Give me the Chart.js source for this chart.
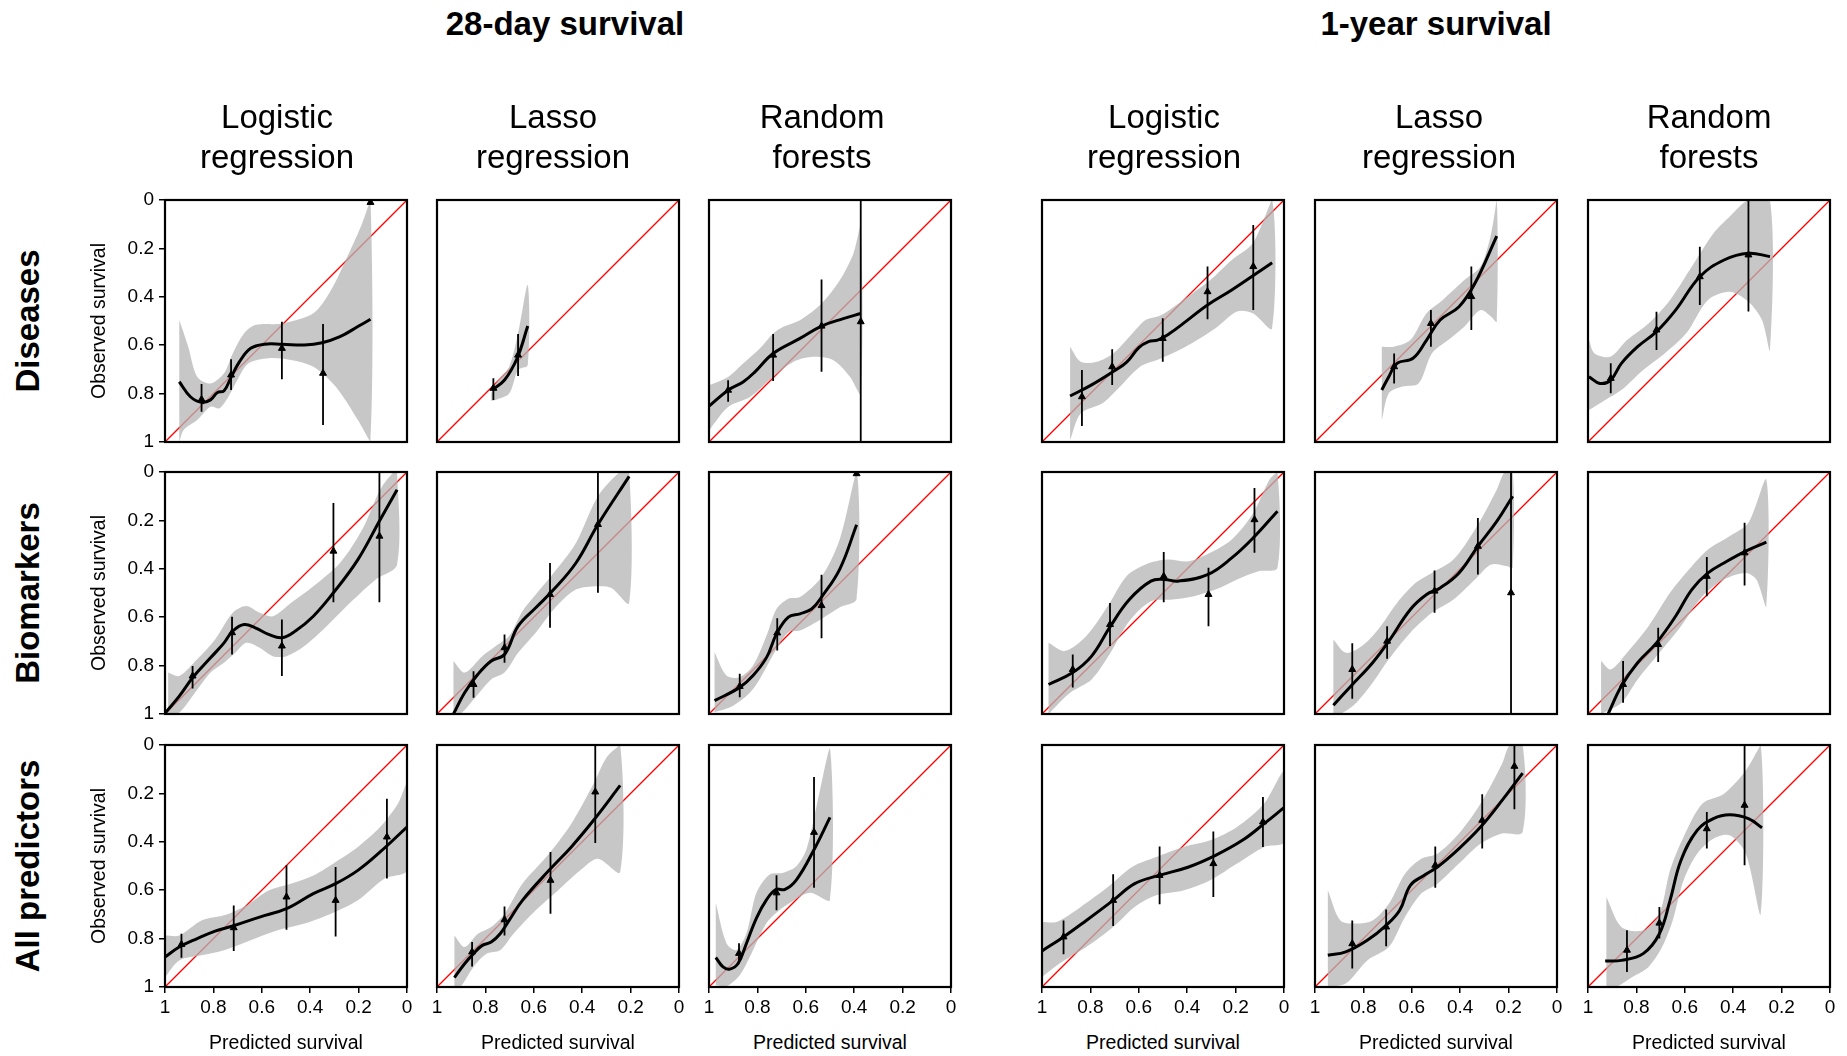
<!DOCTYPE html>
<html>
<head>
<meta charset="utf-8">
<script src="https://cdn.jsdelivr.net/npm/chart.js@4/dist/chart.umd.min.js"></script>
<style>
  body { margin: 0; background: #fff; }
  #page { position: relative; width: 1847px; height: 1056px; overflow: hidden; background: #fff;
          font-family: "Liberation Sans", Arial, sans-serif; color: #000; }
  .lbl { position: absolute; white-space: nowrap; transform: translate(-50%, -50%); text-align: center; }
  .rot { transform: translate(-50%, -50%) rotate(-90deg); }
  canvas { position: absolute; }
</style>
</head>
<body>
<div id="page"></div>
<script>
// labels
const horizons = ['28-day survival', '1-year survival'];
const methods = [['Logistic', 'regression'], ['Lasso', 'regression'], ['Random', 'forests']];
const predictorSets = ['Diseases', 'Biomarkers', 'All predictors'];
const tickValues = [0, 0.2, 0.4, 0.6, 0.8, 1];
const diagonal = [0, 1];

// each panel: curve [x, y], band upper / lower [x, y], points [x, y, lo, hi]
// 28-day, diseases
const dis28LogCurve = [[.941,.751],[.895,.813],[.849,.836],[.812,.826],[.784,.796],[.756,.788],[.729,.737],[.692,.668],[.646,.613],[.59,.596],[.517,.596],[.424,.599],[.351,.59],[.277,.565],[.203,.523],[.151,.493]];
const dis28LogUpper = [[.941,.496],[.904,.606],[.867,.73],[.812,.758],[.756,.716],[.72,.634],[.673,.551],[.627,.517],[.517,.51],[.387,.468],[.314,.372],[.24,.22],[.185,.096],[.151,0]];
const dis28LogLower = [[.941,1],[.923,.95],[.867,.909],[.812,.854],[.775,.861],[.738,.813],[.701,.744],[.655,.675],[.572,.654],[.48,.661],[.387,.689],[.295,.771],[.203,.909],[.151,1]];
const dis28LogPts = [[.849,.824,.76,.875],[.727,.723,.658,.785],[.517,.613,.503,.741],[.347,.716,.512,.93],[.151,.01,.01,.01]];

const dis28LasCurve = [[.772,.785],[.721,.744],[.669,.654],[.625,.521]];
const dis28LasUpper = [[.776,.8],[.757,.758],[.702,.689],[.665,.551],[.625,.351]];
const dis28LasLower = [[.776,.83],[.757,.826],[.702,.8],[.665,.702],[.625,.682]];
const dis28LasPts = [[.767,.778,.737,.826],[.665,.641,.554,.727]];

const dis28RfCurve = [[1,.852],[.921,.786],[.859,.752],[.81,.71],[.735,.634],[.624,.572],[.535,.521],[.445,.49],[.373,.469]];
const dis28RfUpper = [[1,.766],[.921,.731],[.859,.676],[.79,.614],[.735,.552],[.693,.524],[.624,.497],[.535,.428],[.459,.331],[.403,.221],[.373,.11]];
const dis28RfLower = [[1,.952],[.921,.855],[.831,.814],[.735,.731],[.652,.669],[.569,.648],[.486,.662],[.417,.731],[.373,.8]];
const dis28RfPts = [[.921,.786,.745,.834],[.735,.641,.554,.748],[.535,.521,.328,.71],[.373,.503,0,1]];

// 28-day, biomarkers
const bio28LogCurve = [[1,.997],[.941,.926],[.886,.85],[.812,.768],[.756,.706],[.72,.657],[.673,.63],[.627,.644],[.572,.671],[.517,.685],[.461,.657],[.387,.596],[.304,.499],[.203,.362],[.111,.197],[.041,.073]];
const bio28LogUpper = [[.987,.829],[.941,.843],[.867,.774],[.793,.692],[.72,.582],[.664,.554],[.609,.582],[.554,.596],[.48,.541],[.387,.472],[.277,.376],[.185,.238],[.111,.073],[.055,0],[.041,0]];
const bio28LogLower = [[.987,1],[.941,.994],[.886,.926],[.812,.829],[.756,.788],[.71,.747],[.664,.706],[.609,.726],[.554,.761],[.498,.761],[.424,.719],[.332,.637],[.221,.527],[.129,.444],[.041,.382]];
const bio28LogPts = [[.886,.843,.802,.895],[.723,.664,.598,.754],[.517,.719,.609,.843],[.304,.327,.128,.538],[.114,.265,0,.538]];

const bio28LasCurve = [[.932,1],[.886,.912],[.831,.836],[.776,.781],[.721,.754],[.665,.637],[.592,.561],[.518,.486],[.426,.376],[.335,.217],[.206,.018]];
const bio28LasUpper = [[.932,.781],[.886,.829],[.813,.761],[.757,.719],[.702,.678],[.647,.575],[.592,.506],[.518,.417],[.426,.293],[.335,.1],[.243,0],[.206,0]];
const bio28LasLower = [[.932,1],[.904,1],[.849,.94],[.776,.857],[.721,.829],[.665,.747],[.592,.664],[.518,.568],[.426,.486],[.335,.472],[.279,.479],[.206,.541]];
const bio28LasPts = [[.849,.878,.823,.933],[.721,.726,.671,.788],[.533,.506,.376,.644],[.335,.217,0,.499]];

const bio28RfCurve = [[.977,.945],[.873,.89],[.818,.841],[.762,.766],[.721,.669],[.672,.6],[.624,.586],[.576,.566],[.535,.517],[.459,.4],[.39,.218]];
const bio28RfUpper = [[.977,.745],[.928,.841],[.873,.848],[.818,.8],[.762,.676],[.721,.566],[.672,.524],[.624,.517],[.535,.434],[.459,.276],[.39,0]];
const bio28RfLower = [[.977,.993],[.9,.966],[.818,.897],[.721,.731],[.672,.662],[.624,.655],[.535,.607],[.459,.559],[.39,.524]];
const bio28RfPts = [[.873,.886,.834,.931],[.718,.665,.604,.738],[.535,.552,.425,.687],[.39,.007,.007,.007]];

// 28-day, all predictors
const all28LogCurve = [[1,.876],[.941,.835],[.867,.8],[.793,.769],[.72,.748],[.609,.711],[.498,.676],[.387,.614],[.295,.573],[.203,.518],[.111,.442],[0,.339]];
const all28LogUpper = [[1,.787],[.941,.787],[.849,.725],[.756,.704],[.664,.663],[.572,.601],[.48,.573],[.387,.539],[.295,.483],[.203,.421],[.111,.339],[.037,.242],[0,.16]];
const all28LogLower = [[1,.959],[.941,.89],[.849,.869],[.756,.848],[.646,.807],[.535,.766],[.424,.738],[.314,.697],[.203,.642],[.092,.552],[0,.518]];
const all28LogPts = [[.932,.824,.78,.879],[.716,.755,.663,.851],[.498,.628,.497,.763],[.295,.642,.504,.791],[.083,.38,.222,.552]];

const all28LasCurve = [[.928,.961],[.886,.904],[.849,.862],[.813,.828],[.776,.814],[.739,.78],[.702,.725],[.647,.642],[.537,.518],[.445,.421],[.353,.311],[.243,.167]];
const all28LasUpper = [[.928,.787],[.886,.835],[.831,.78],[.776,.752],[.721,.697],[.647,.573],[.537,.449],[.445,.325],[.353,.16],[.298,.05],[.243,0]];
const all28LasLower = [[.928,1],[.904,1],[.849,.917],[.794,.862],[.739,.848],[.684,.78],[.592,.683],[.5,.601],[.408,.518],[.335,.47],[.243,.525]];
const all28LasPts = [[.855,.855,.814,.915],[.721,.722,.667,.787],[.531,.559,.442,.697],[.346,.194,0,.405]];

const all28RfCurve = [[.972,.878],[.942,.917],[.914,.926],[.88,.903],[.845,.819],[.804,.715],[.762,.639],[.724,.597],[.686,.597],[.638,.556],[.569,.438],[.5,.299]];
const all28RfUpper = [[.972,.653],[.928,.819],[.887,.847],[.845,.778],[.804,.611],[.749,.535],[.693,.528],[.638,.5],[.597,.43],[.555,.25],[.5,.014]];
const all28RfLower = [[.972,.993],[.928,.997],[.873,.951],[.831,.875],[.762,.736],[.707,.681],[.666,.653],[.583,.611],[.5,.639]];
const all28RfPts = [[.876,.861,.819,.903],[.721,.611,.538,.683],[.566,.361,.132,.59]];

// 1-year, diseases
const dis1yLogCurve = [[.884,.81],[.795,.764],[.706,.709],[.65,.67],[.6,.61],[.56,.585],[.52,.578],[.47,.55],[.416,.51],[.316,.434],[.216,.372],[.049,.259]];
const dis1yLogUpper = [[.884,.606],[.84,.668],[.773,.668],[.706,.634],[.639,.565],[.572,.496],[.506,.475],[.416,.413],[.305,.331],[.216,.248],[.129,.179],[.049,0]];
const dis1yLogLower = [[.884,.992],[.84,.882],[.75,.84],[.684,.778],[.595,.689],[.506,.654],[.394,.599],[.283,.53],[.194,.461],[.129,.468],[.049,.53]];
const dis1yLogPts = [[.835,.813,.702,.934],[.71,.689,.617,.764],[.501,.572,.489,.668],[.316,.379,.275,.493],[.127,.275,.103,.455]];

const dis1yLasCurve = [[.724,.785],[.695,.73],[.661,.675],[.595,.654],[.539,.579],[.483,.496],[.405,.441],[.339,.344],[.249,.149]];
const dis1yLasUpper = [[.724,.606],[.673,.606],[.606,.579],[.539,.468],[.472,.413],[.383,.331],[.316,.275],[.272,.138],[.249,0]];
const dis1yLasLower = [[.724,.909],[.695,.799],[.639,.771],[.572,.758],[.517,.634],[.45,.579],[.383,.524],[.316,.455],[.272,.482],[.249,.503]];
const dis1yLasPts = [[.673,.689,.634,.758],[.521,.51,.455,.606],[.354,.399,.275,.537]];

const dis1yRfCurve = [[.996,.73],[.951,.758],[.906,.744],[.862,.675],[.795,.606],[.717,.544],[.638,.455],[.538,.317],[.438,.248],[.337,.22],[.248,.234]];
const dis1yRfUpper = [[.996,.579],[.973,.634],[.906,.647],[.839,.579],[.75,.51],[.661,.413],[.571,.275],[.482,.138],[.415,.069],[.337,0],[.248,0]];
const dis1yRfLower = [[.996,.868],[.929,.826],[.862,.785],[.772,.702],[.683,.634],[.594,.551],[.504,.413],[.415,.379],[.337,.42],[.281,.496],[.248,.62]];
const dis1yRfPts = [[.906,.737,.675,.799],[.717,.537,.462,.62],[.538,.317,.193,.434],[.337,.227,0,.461]];

// 1-year, biomarkers
const bio1yLogCurve = [[.973,.878],[.873,.829],[.795,.761],[.717,.637],[.639,.527],[.55,.451],[.494,.444],[.439,.451],[.316,.424],[.216,.355],[.127,.272],[.027,.162]];
const bio1yLogUpper = [[.973,.706],[.906,.74],[.817,.678],[.728,.554],[.65,.43],[.572,.382],[.483,.362],[.394,.369],[.305,.334],[.216,.279],[.127,.169],[.06,.032],[.027,0]];
const bio1yLogLower = [[.973,1],[.884,.912],[.795,.857],[.717,.747],[.639,.616],[.55,.534],[.461,.527],[.372,.513],[.283,.486],[.194,.444],[.105,.41],[.027,.396]];
const bio1yLogPts = [[.873,.816,.754,.891],[.719,.63,.541,.719],[.497,.431,.331,.538],[.312,.506,.396,.637],[.122,.197,.066,.334]];

const bio1yLasCurve = [[.924,.964],[.851,.884],[.762,.788],[.695,.699],[.606,.568],[.539,.506],[.483,.479],[.405,.417],[.327,.307],[.249,.204],[.183,.1]];
const bio1yLasUpper = [[.924,.692],[.873,.747],[.806,.719],[.739,.651],[.661,.541],[.584,.458],[.517,.417],[.428,.362],[.339,.238],[.249,.073],[.216,0],[.183,0]];
const bio1yLasLower = [[.924,1],[.895,1],[.829,.953],[.762,.871],[.695,.774],[.606,.664],[.517,.582],[.428,.527],[.339,.444],[.272,.382],[.205,.389],[.183,.396]];
const bio1yLasPts = [[.846,.816,.708,.937],[.702,.699,.637,.772],[.506,.492,.407,.582],[.327,.307,.19,.424],[.19,.499,0,1]];

const bio1yRfCurve = [[.917,1],[.862,.884],[.795,.788],[.717,.706],[.638,.596],[.571,.486],[.504,.417],[.426,.369],[.348,.327],[.263,.29]];
const bio1yRfUpper = [[.946,.781],[.906,.816],[.839,.747],[.75,.637],[.661,.499],[.583,.403],[.504,.32],[.415,.265],[.337,.21],[.263,.032]];
const bio1yRfLower = [[.946,1],[.862,.953],[.795,.857],[.705,.747],[.616,.637],[.527,.513],[.438,.444],[.348,.417],[.304,.444],[.263,.554]];
const bio1yRfPts = [[.855,.878,.781,.953],[.71,.713,.644,.785],[.509,.431,.351,.513],[.353,.334,.21,.469]];

// 1-year, all predictors
const all1yLogCurve = [[1,.851],[.911,.793],[.817,.725],[.706,.642],[.617,.573],[.517,.539],[.394,.504],[.283,.456],[.172,.394],[.082,.325],[0,.259]];
const all1yLogUpper = [[1,.731],[.94,.731],[.84,.669],[.728,.587],[.628,.504],[.528,.463],[.416,.421],[.305,.394],[.194,.339],[.082,.242],[0,.112]];
const all1yLogLower = [[1,.959],[.929,.904],[.817,.835],[.706,.752],[.617,.669],[.528,.621],[.416,.601],[.305,.559],[.194,.49],[.082,.421],[0,.401]];
const all1yLogPts = [[.911,.793,.725,.865],[.706,.642,.534,.748],[.514,.539,.419,.658],[.292,.49,.357,.628],[.087,.318,.215,.421]];

const all1yLasCurve = [[.947,.869],[.873,.855],[.784,.807],[.706,.745],[.65,.683],[.606,.58],[.55,.539],[.494,.504],[.405,.428],[.316,.339],[.227,.229],[.142,.116]];
const all1yLasUpper = [[.947,.6],[.895,.725],[.829,.738],[.762,.725],[.695,.656],[.628,.532],[.561,.47],[.494,.449],[.405,.366],[.316,.242],[.227,.077],[.194,0],[.142,0]];
const all1yLasLower = [[.947,1],[.873,.986],[.784,.89],[.695,.835],[.628,.711],[.561,.614],[.494,.573],[.405,.49],[.316,.408],[.227,.366],[.142,.36]];
const all1yLasPts = [[.846,.821,.725,.924],[.706,.752,.68,.832],[.503,.497,.419,.59],[.309,.311,.204,.428],[.176,.088,0,.266]];

const all1yRfCurve = [[.929,.893],[.862,.89],[.772,.862],[.705,.78],[.661,.642],[.616,.477],[.549,.353],[.482,.304],[.415,.288],[.337,.304],[.281,.342]];
const all1yRfUpper = [[.924,.628],[.862,.752],[.772,.766],[.705,.697],[.661,.518],[.605,.38],[.527,.242],[.438,.201],[.348,.105],[.286,0]];
const all1yRfLower = [[.924,1],[.884,1],[.817,.959],[.75,.917],[.694,.835],[.65,.725],[.605,.559],[.549,.449],[.482,.387],[.415,.373],[.348,.449],[.286,.697]];
const all1yRfPts = [[.839,.848,.766,.938],[.705,.736,.669,.8],[.509,.346,.277,.428],[.353,.249,0,.497]];

const P = (curve, upper, lower, pts) => ({ curve, upper, lower, pts });
const panelGrid = [
  [P(dis28LogCurve, dis28LogUpper, dis28LogLower, dis28LogPts), P(dis28LasCurve, dis28LasUpper, dis28LasLower, dis28LasPts), P(dis28RfCurve, dis28RfUpper, dis28RfLower, dis28RfPts),
   P(dis1yLogCurve, dis1yLogUpper, dis1yLogLower, dis1yLogPts), P(dis1yLasCurve, dis1yLasUpper, dis1yLasLower, dis1yLasPts), P(dis1yRfCurve, dis1yRfUpper, dis1yRfLower, dis1yRfPts)],
  [P(bio28LogCurve, bio28LogUpper, bio28LogLower, bio28LogPts), P(bio28LasCurve, bio28LasUpper, bio28LasLower, bio28LasPts), P(bio28RfCurve, bio28RfUpper, bio28RfLower, bio28RfPts),
   P(bio1yLogCurve, bio1yLogUpper, bio1yLogLower, bio1yLogPts), P(bio1yLasCurve, bio1yLasUpper, bio1yLasLower, bio1yLasPts), P(bio1yRfCurve, bio1yRfUpper, bio1yRfLower, bio1yRfPts)],
  [P(all28LogCurve, all28LogUpper, all28LogLower, all28LogPts), P(all28LasCurve, all28LasUpper, all28LasLower, all28LasPts), P(all28RfCurve, all28RfUpper, all28RfLower, all28RfPts),
   P(all1yLogCurve, all1yLogUpper, all1yLogLower, all1yLogPts), P(all1yLasCurve, all1yLasUpper, all1yLasLower, all1yLasPts), P(all1yRfCurve, all1yRfUpper, all1yRfLower, all1yRfPts)]
];

// layout
const colLeft = [165, 437, 709, 1042, 1315, 1588];
const rowTop = [200, 472, 745];
const SIZE = 242;
// generous top/right padding so tick labels never push the plot area
const PAD_L = 70, PAD_T = 24, PAD_R = 20, PAD_B = 40;
const FONT = '"Liberation Sans", Arial, sans-serif';

Chart.defaults.font.family = FONT;
Chart.defaults.color = '#000';

const page = document.getElementById('page');

function label(text, cx, cy, style, cls) {
  const d = document.createElement('div');
  d.className = 'lbl' + (cls ? ' ' + cls : '');
  d.innerHTML = text;
  d.style.left = cx + 'px';
  d.style.top = cy + 'px';
  Object.assign(d.style, style);
  page.appendChild(d);
}

// box around each plot area
const boxPlugin = {
  id: 'box',
  afterDatasetsDraw(chart) {
    const { ctx, chartArea: a } = chart;
    ctx.save();
    ctx.strokeStyle = '#000';
    ctx.lineWidth = 2.2;
    ctx.strokeRect(a.left, a.top, a.right - a.left, a.bottom - a.top);
    ctx.restore();
  }
};

const xy = p => ({ x: p[0], y: p[1] });

function axis(showTicks, isX) {
  return {
    type: 'linear', min: 0, max: 1, reverse: true,
    afterFit: s => { if (isX) s.height = PAD_B; else s.width = PAD_L; },
    afterBuildTicks: s => { s.ticks = tickValues.map(v => ({ value: v })); },
    ticks: { display: showTicks, callback: v => String(v), font: { size: 19 }, color: '#000',
             padding: isX ? 3 : 5, maxRotation: 0, autoSkip: false },
    grid: { display: showTicks, drawOnChartArea: false, drawTicks: true, tickLength: 6,
            color: '#000', lineWidth: 1.5 },
    border: { display: false }
  };
}

panelGrid.forEach((row, r) => {
  row.forEach((pd, c) => {
    const cv = document.createElement('canvas');
    cv.width = PAD_L + SIZE + PAD_R;
    cv.height = PAD_T + SIZE + PAD_B;
    cv.style.left = (colLeft[c] - PAD_L) + 'px';
    cv.style.top = (rowTop[r] - PAD_T) + 'px';
    page.appendChild(cv);

    const band = pd.upper.concat(pd.lower.slice().reverse()).map(xy);
    const bars = [];
    pd.pts.forEach(p => {
      bars.push({ x: p[0], y: p[2] }, { x: p[0], y: p[3] }, { x: p[0], y: null });
    });

    new Chart(cv, {
      type: 'line',
      data: {
        datasets: [
          { data: diagonal.map(v => ({ x: v, y: v })), borderColor: '#ff0000', borderWidth: 1.3,
            pointRadius: 0, tension: 0, order: 5 },
          { data: band, fill: 'shape', backgroundColor: 'rgba(180,180,180,0.75)', borderWidth: 0,
            pointRadius: 0, tension: 0.3, order: 4, clip: 0 },
          { data: bars, borderColor: '#000', borderWidth: 1.8, pointRadius: 0, tension: 0,
            spanGaps: false, order: 3, clip: 0 },
          { data: pd.curve.map(xy), borderColor: '#000', borderWidth: 3, pointRadius: 0,
            tension: 0.4, order: 2, clip: 0 },
          { data: pd.pts.map(xy), showLine: false, pointStyle: 'triangle', pointRadius: 4,
            backgroundColor: '#000', borderColor: '#000', borderWidth: 1, order: 1 }
        ]
      },
      options: {
        responsive: false, animation: false, events: [],
        layout: { padding: { left: 0, top: PAD_T, right: PAD_R, bottom: 0 } },
        plugins: { legend: { display: false }, tooltip: { enabled: false } },
        scales: { x: axis(r === 2, true), y: axis(c === 0, false) }
      },
      plugins: [boxPlugin]
    });
  });
});

// headings
label(horizons[0], 565, 24, { font: 'bold 33px ' + FONT });
label(horizons[1], 1436, 24, { font: 'bold 33px ' + FONT });
const methodCx = [277, 553, 822, 1164, 1439, 1709];
methodCx.forEach((cx, c) => {
  const m = methods[c % 3];
  label(m[0] + '<br>' + m[1], cx, 137, { font: '33px ' + FONT, lineHeight: '40px' });
});
rowTop.forEach((top, r) => {
  const cy = top + SIZE / 2;
  label(predictorSets[r], 28, cy, { font: 'bold 33px ' + FONT }, 'rot');
  label('Observed survival', 98, cy, { font: '19.5px ' + FONT }, 'rot');
});
colLeft.forEach(left => {
  label('Predicted survival', left + SIZE / 2, 1042, { font: '19.5px ' + FONT });
});
</script>
</body>
</html>
